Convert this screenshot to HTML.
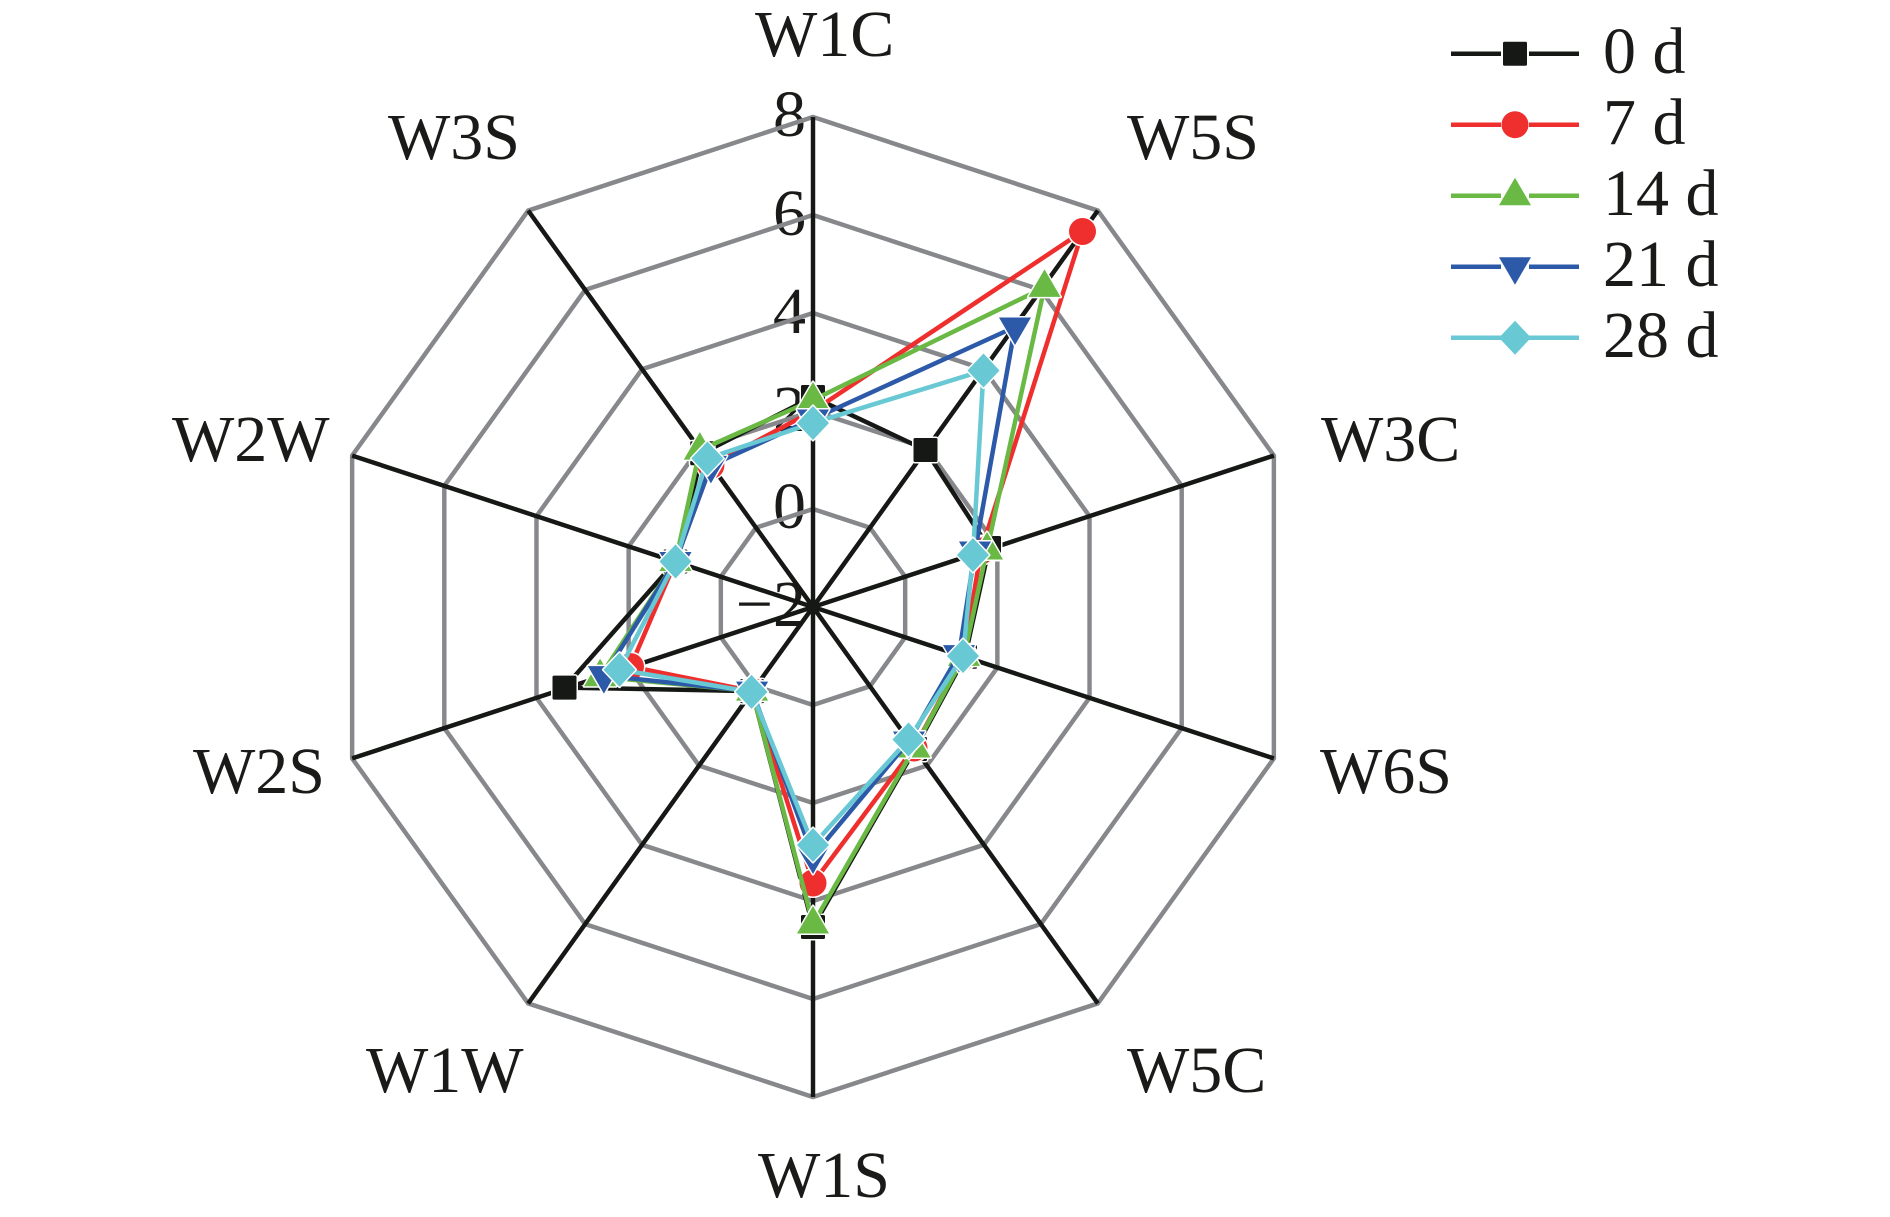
<!DOCTYPE html>
<html><head><meta charset="utf-8"><title>Radar chart</title>
<style>
html,body{margin:0;padding:0;background:#fff;width:1890px;height:1217px;overflow:hidden}
svg{display:block}
text{font-family:"Liberation Serif",serif;font-size:66px;fill:#1a1a18}
.ring{fill:none;stroke:#86888b;stroke-width:4.5;stroke-linejoin:miter}
.spoke{stroke:#161815;stroke-width:4.5;fill:none}
.s{fill:none;stroke-width:4.5;stroke-linejoin:round}
.h{stroke:#fff;stroke-width:3;paint-order:stroke;stroke-linejoin:round}
</style></head><body>
<svg width="1890" height="1217" viewBox="0 0 1890 1217" xmlns="http://www.w3.org/2000/svg">
<defs>
<rect id="sq" x="-12" y="-12" width="24" height="24" rx="1.5"/>
<circle id="ci" r="13.5"/>
<path id="up" d="M0-18 L16 9.5 L-16 9.5Z"/>
<path id="dn" d="M0 18 L16 -9.5 L-16 -9.5Z"/>
<path id="di" d="M0-17 L16 0 L0 17 L-16 0Z"/>
</defs>

<rect width="1890" height="1217" fill="#fff"/>

<!-- tick labels -->
<g text-anchor="end">
<text x="806" y="136">8</text>
<text x="806" y="235">6</text>
<text x="806" y="333">4</text>
<text x="806" y="431">2</text>
<text x="806" y="528">0</text>
<text x="806" y="626">−2</text>
</g>

<!-- rings and spokes -->
<g transform="translate(813,607) scale(0.989,1)">
<polygon class="ring" points="0,-98 57.6,-79.3 93.2,-30.3 93.2,30.3 57.6,79.3 0,98 -57.6,79.3 -93.2,30.3 -93.2,-30.3 -57.6,-79.3"/>
<polygon class="ring" points="0,-196 115.2,-158.6 186.4,-60.6 186.4,60.6 115.2,158.6 0,196 -115.2,158.6 -186.4,60.6 -186.4,-60.6 -115.2,-158.6"/>
<polygon class="ring" points="0,-294 172.8,-237.8 279.6,-90.8 279.6,90.8 172.8,237.8 0,294 -172.8,237.8 -279.6,90.8 -279.6,-90.8 -172.8,-237.8"/>
<polygon class="ring" points="0,-392 230.4,-317.1 372.8,-121.1 372.8,121.1 230.4,317.1 0,392 -230.4,317.1 -372.8,121.1 -372.8,-121.1 -230.4,-317.1"/>
<polygon class="ring" points="0,-490 288,-396.4 466,-151.4 466,151.4 288,396.4 0,490 -288,396.4 -466,151.4 -466,-151.4 -288,-396.4"/>
<path class="spoke" d="M0 0L0 -490M0 0L288 -396.4M0 0L466 -151.4M0 0L466 151.4M0 0L288 396.4M0 0L0 490M0 0L-288 396.4M0 0L-466 151.4M0 0L-466 -151.4M0 0L-288 -396.4"/>
</g>

<!-- 0 d -->
<polygon class="s" stroke="#161815" points="813,397 925.5,450 989,548 965,656.7 915,749 813,927 752.1,691.1 564.5,687.6 675.5,561.5 702.2,453.3"/>
<g fill="#161815" class="h">
<use href="#sq" x="813" y="397"/><use href="#sq" x="925.5" y="450"/><use href="#sq" x="989" y="548"/><use href="#sq" x="965" y="656.7"/><use href="#sq" x="915" y="749"/><use href="#sq" x="813" y="927"/><use href="#sq" x="752.1" y="691.1"/><use href="#sq" x="564.5" y="687.6"/><use href="#sq" x="675.5" y="561.5"/><use href="#sq" x="702.2" y="453.3"/>
</g>

<!-- 7 d -->
<polygon class="s" stroke="#ee2f2e" points="813,411 1082.5,231.5 981,551 963.5,656.4 914,748 813,883 752.1,691.1 630.5,666.6 675.5,561.5 710.9,465.4"/>
<g fill="#ee2f2e" class="h">
<use href="#ci" x="813" y="411"/><use href="#ci" x="1082.5" y="231.5"/><use href="#ci" x="981" y="551"/><use href="#ci" x="963.5" y="656.4"/><use href="#ci" x="914" y="748"/><use href="#ci" x="813" y="883"/><use href="#ci" x="752.1" y="691.1"/><use href="#ci" x="630.5" y="666.6"/><use href="#ci" x="675.5" y="561.5"/><use href="#ci" x="710.9" y="465.4"/>
</g>

<!-- 14 d -->
<polygon class="s" stroke="#69b944" points="813,400 1044.5,287.4 987,550 964,656.4 914.5,748 813,924 752.1,691.1 600.1,676.8 675.5,561.5 699.8,450.1"/>
<g fill="#69b944" class="h">
<use href="#up" x="813" y="400"/><use href="#up" x="1044.5" y="287.4"/><use href="#up" x="987" y="550"/><use href="#up" x="964" y="656.4"/><use href="#up" x="914.5" y="748"/><use href="#up" x="813" y="924"/><use href="#up" x="752.1" y="691.1"/><use href="#up" x="600.1" y="676.8"/><use href="#up" x="675.5" y="561.5"/><use href="#up" x="699.8" y="450.1"/>
</g>

<!-- 21 d -->
<polygon class="s" stroke="#2c5aa8" points="813,419 1015,327 975,551 959,654.6 909,741 813,856 752.1,691.1 603.9,675.6 675.5,561.5 710.9,465.4"/>
<g fill="#2c5aa8" class="h">
<use href="#dn" x="813" y="419"/><use href="#dn" x="1015" y="327"/><use href="#dn" x="975" y="551"/><use href="#dn" x="959" y="654.6"/><use href="#dn" x="909" y="741"/><use href="#dn" x="813" y="856"/><use href="#dn" x="752.1" y="691.1"/><use href="#dn" x="603.9" y="675.6"/><use href="#dn" x="675.5" y="561.5"/><use href="#dn" x="710.9" y="465.4"/>
</g>

<!-- 28 d -->
<polygon class="s" stroke="#68c8d3" points="813,423 983.5,370.5 973,555 963,656 908.5,739.5 813,845 751.5,691.9 619.5,669.7 675.5,561.5 707.4,458.5"/>
<g fill="#68c8d3" class="h">
<use href="#di" x="813" y="423"/><use href="#di" x="983.5" y="370.5"/><use href="#di" x="973" y="555"/><use href="#di" x="963" y="656"/><use href="#di" x="908.5" y="739.5"/><use href="#di" x="813" y="845"/><use href="#di" x="751.5" y="691.9"/><use href="#di" x="619.5" y="669.7"/><use href="#di" x="675.5" y="561.5"/><use href="#di" x="707.4" y="458.5"/>
</g>

<!-- axis labels -->
<text x="755" y="56">W1C</text>
<text x="1127" y="159">W5S</text>
<text x="388" y="159">W3S</text>
<text x="1321" y="461">W3C</text>
<text x="172" y="461">W2W</text>
<text x="1320" y="793">W6S</text>
<text x="193" y="793">W2S</text>
<text x="1127" y="1092">W5C</text>
<text x="366" y="1092">W1W</text>
<text x="758" y="1197">W1S</text>

<!-- legend -->
<g stroke-width="4.5" fill="none">
<path stroke="#161815" d="M1451 53.7H1501M1529 53.7H1579"/>
<path stroke="#ee2f2e" d="M1451 124.7H1501M1529 124.7H1579"/>
<path stroke="#69b944" d="M1451 195.7H1501M1529 195.7H1579"/>
<path stroke="#2c5aa8" d="M1451 266.7H1501M1529 266.7H1579"/>
<path stroke="#68c8d3" d="M1451 337.7H1579"/>
</g>
<use href="#sq" x="1515" y="53.7" fill="#161815"/>
<use href="#ci" x="1515" y="124.7" fill="#ee2f2e"/>
<use href="#up" x="1515" y="195.7" fill="#69b944"/>
<use href="#dn" x="1515" y="266.7" fill="#2c5aa8"/>
<use href="#di" x="1515" y="337.7" fill="#68c8d3"/>
<text x="1603" y="73">0 d</text>
<text x="1603" y="144">7 d</text>
<text x="1603" y="215">14 d</text>
<text x="1603" y="286">21 d</text>
<text x="1603" y="357">28 d</text>
</svg>
</body></html>
